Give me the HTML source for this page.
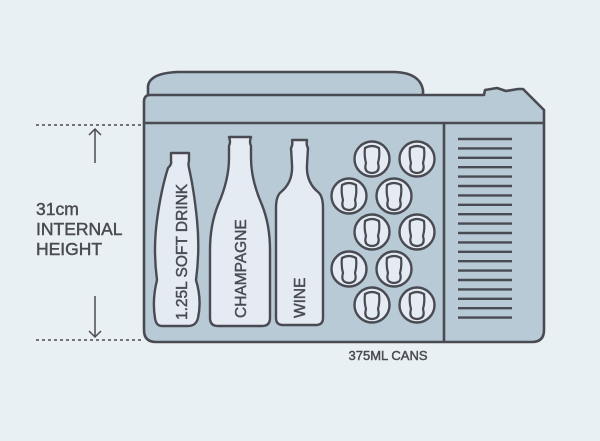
<!DOCTYPE html>
<html><head><meta charset="utf-8"><style>
html,body{margin:0;padding:0;background:#e8f0f3;}
svg{display:block}
text{font-family:"Liberation Sans",sans-serif;fill:#4a4b52;stroke:#4a4b52;stroke-width:0.45;}
</style></head><body>
<svg width="600" height="441" viewBox="0 0 600 441" xmlns="http://www.w3.org/2000/svg">
<rect width="600" height="441" fill="#e8f0f3"/>
<g stroke="#4a4b52" stroke-width="2.6" fill="#b7cad6" stroke-linejoin="round">
<path d="M148 96 L148 86 Q150 73 178 72 L395 72 Q420 73 423 90 L423 96 Z"/>
<path d="M150 95 L484 95 L485 90 L497 88 L506 91 L518 89 L523 89 L544 110 L544 330 Q544 342 532 342 L156 342 Q144 342 144 330 L144 102 Q144 95 150 95 Z"/>
<line x1="144" y1="123" x2="544" y2="123"/>
<line x1="444" y1="123" x2="444" y2="342"/>
</g>
<g stroke="#4a4b52" stroke-width="2.4">
<line x1="458" y1="139" x2="512" y2="139"/><line x1="458" y1="148.4" x2="512" y2="148.4"/><line x1="458" y1="157.8" x2="512" y2="157.8"/><line x1="458" y1="167.2" x2="512" y2="167.2"/><line x1="458" y1="176.6" x2="512" y2="176.6"/><line x1="458" y1="186" x2="512" y2="186"/><line x1="458" y1="195.4" x2="512" y2="195.4"/><line x1="458" y1="204.8" x2="512" y2="204.8"/><line x1="458" y1="214.2" x2="512" y2="214.2"/><line x1="458" y1="223.6" x2="512" y2="223.6"/><line x1="458" y1="233" x2="512" y2="233"/><line x1="458" y1="242.4" x2="512" y2="242.4"/><line x1="458" y1="251.8" x2="512" y2="251.8"/><line x1="458" y1="261.2" x2="512" y2="261.2"/><line x1="458" y1="270.6" x2="512" y2="270.6"/><line x1="458" y1="280" x2="512" y2="280"/><line x1="458" y1="289.4" x2="512" y2="289.4"/><line x1="458" y1="298.8" x2="512" y2="298.8"/><line x1="458" y1="308.2" x2="512" y2="308.2"/><line x1="458" y1="317.6" x2="512" y2="317.6"/>
</g>
<g stroke="#4a4b52" stroke-width="2.4" fill="#e4ebf2" stroke-linejoin="round">
<path d="M171 153 L189 153 L189 161 Q188 164 189 168 Q194 190 197 220 Q200 250 196 280 Q202 300 198 318 Q196 326 188 326 L162 326 Q156 326 155 318 Q152 300 157 280 Q153 250 157 220 Q161 190 168 168 Q172 164 171 161 Z"/>
<path d="M233 137 L251 137 Q249 142 251 146 L251 158 Q251 180 262 205 Q270 225 270 250 L270 318 Q270 326 262 326 L218 326 Q210 326 210 318 L210 250 Q210 225 218 205 Q229 180 229 158 L229 146 Q231 142 229 137 Z"/>
<path d="M292 140 L307 140 Q306 145 308 148 L307 165 Q306 182 318 192 Q323 196 323 208 L323 318 Q323 325 316 325 L283 325 Q276 325 276 318 L276 208 Q276 196 281 192 Q293 182 292 165 L291 148 Q293 145 292 140 Z"/>
</g>
<text transform="translate(187,320) rotate(-90)" font-size="15.5">1.25L SOFT DRINK</text>
<text transform="translate(246,318) rotate(-90)" font-size="15.5">CHAMPAGNE</text>
<text transform="translate(305,318) rotate(-90)" font-size="15.5">WINE</text>
<defs>
<g id="can">
<circle r="17.5" fill="#e4ebf2" stroke="#4a4b52" stroke-width="2.4"/>
<path d="M-7 -11 Q0 -15 7 -11 Q8 -3 6 4 Q8 11 4 13 Q0 15 -4 13 Q-8 11 -6 4 Q-8 -3 -7 -11 Z" fill="#e4ebf2" stroke="#4a4b52" stroke-width="2.2"/>
</g>
</defs>
<use href="#can" x="372" y="159"/><use href="#can" x="417" y="159"/>
<use href="#can" x="349" y="196"/><use href="#can" x="394" y="196"/>
<use href="#can" x="372" y="232"/><use href="#can" x="417" y="232"/>
<use href="#can" x="349" y="269"/><use href="#can" x="394" y="269"/>
<use href="#can" x="372" y="305"/><use href="#can" x="417" y="305"/>
<g stroke="#4a4b52" stroke-width="1.5" fill="none">
<line x1="36" y1="125" x2="143" y2="125" stroke-dasharray="3,3"/>
<line x1="36" y1="340" x2="143" y2="340" stroke-dasharray="3,3"/>
<line x1="95" y1="129" x2="95" y2="163"/>
<path d="M89 135 L95 129 L101 135"/>
<line x1="95" y1="296" x2="95" y2="337"/>
<path d="M89 331 L95 337 L101 331"/>
</g>
<text x="36" y="215" font-size="17.5">31cm</text>
<text x="36" y="235" font-size="17.5">INTERNAL</text>
<text x="36" y="255" font-size="17.5">HEIGHT</text>
<text x="388" y="360" font-size="13" text-anchor="middle">375ML CANS</text>
</svg>
</body></html>
